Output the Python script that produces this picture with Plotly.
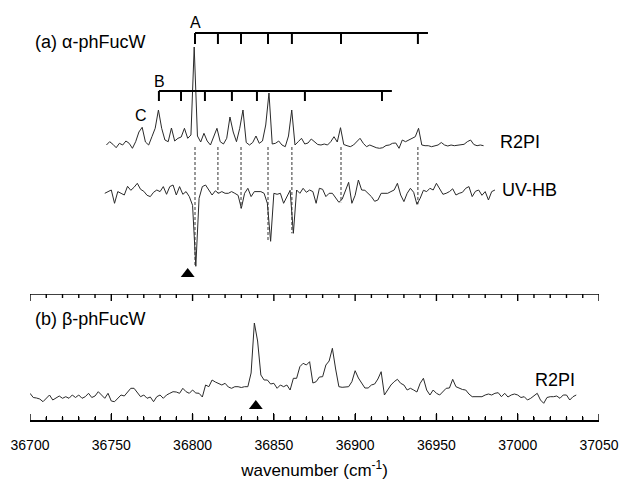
import numpy as np
import plotly.graph_objects as go

# ---------------- data ----------------
r2pi_a_start, r2pi_a_step = 36747, 2
r2pi_a = [-1, 2.3, -0.3, -3.7, 0.7, -1, 3, 0.7, -4.3, 2.3,
          12, 16.7, 2, -1, 7.3, 15.7, 34, 15.7, 4, 2.3,
          16, 3, 5.7, 7, 15.7, 5.7, 9, 97, 8, 2,
          10.7, 3, -1, 8, 15.7, 2.3, 0, 5.7, 27, 12,
          2.3, 15.7, 34, 1.5, -1, 1.5, 8, 0.7, 3, 19,
          51, 0, 0.7, 3, -1, -2.7, 8, 34, -1, 2.3,
          5.7, 0, 1, 5, 2.3, -0.5, -1, 0, -1, 2.3,
          7.3, 2, 16.3, -0.5, -1.7, -2.7, -1, 2, 5.7, 0.7,
          -2.7, -1, -2.7, -3.7, -4.3, -3.7, -1.5, -1, 0.7, 1,
          -4.3, 4, 2.3, 4, 5.7, 7.3, 15.7, -1, -1.7, -1.7,
          -2.7, -1.7, -1, 1.5, -1, -2, -1, -1.7, -1, -1,
          -0.3, 2.3, 4, -0.5, -1.7, -1, -1.7]

uvhb_start, uvhb_step = 36746, 2
uvhb = [0, 1.7, 3.3, -10, 1.7, 0, -1.7, 7, 3, 6,
        10, 4, 2, -2, -3.3, 1, 3.3, 1.7, 6.7, -1,
        6.7, 8.3, -1.7, 6.7, -1, 1.7, -3.3, -12, -73, -5,
        6.7, 8.3, 3.3, -1.7, 2.5, 0, 1.7, 0, 0, 1.7,
        0, -2, -15, 0, 5, -3.3, 1.7, 2, 1.7, 0,
        -10, -48, 0, -1, 0, -10, -3.3, 3, -40, 3.3,
        0, 5, 1, 3.3, 1.7, -10, 5, 4, -3.3, 0,
        0, -5, -9, -6, 3.3, 11, -10, -2, 13.3, 3.3,
        3, 0, -3.3, -8, -6.7, 0, 0, 0, 1.7, 3.3,
        10, -1.7, -8.3, 0, 5, 1, -11, -5, 3, 1.7,
        5, 3.3, 10, 5, -1, 0, 1.7, 4.5, -1.7, 0,
        1, 5, 6.7, -3.3, 2, 3.3, -2, 1.7, -6.7, 1.7,
        3.3]

r2pi_b_start, r2pi_b_step = 36700, 2
r2pi_b = [27.7, 23.5, 23, 22, 19.3, 22.7, 26, 21, 22.7, 25,
          22.7, 24.3, 22.7, 26, 23.5, 26, 22.7, 24.3, 27.7, 23.5,
          25, 29.3, 26, 22.7, 27.7, 20, 19.3, 22.7, 26, 25,
          29.3, 32.7, 32.7, 28.5, 24.3, 26, 22.7, 24, 19.3, 24.3,
          26, 22.7, 26, 27.7, 29.3, 29, 27.7, 32.7, 29.3, 27.7,
          31, 28, 27.7, 24, 36, 34.3, 41, 39, 37.7, 36,
          37.7, 34, 32.7, 34.3, 34.3, 33.5, 34.3, 34.3, 48, 98,
          80, 46, 41, 41, 37, 37.7, 32.7, 36, 34.3, 36,
          31, 42.7, 42.7, 54.3, 57.7, 56, 59.3, 38, 39.3, 44,
          44.3, 56, 60, 72.7, 52, 34.3, 33.7, 33.7, 34.3, 39.3,
          50.3, 43, 38, 33, 33, 36, 37, 42, 49.3, 26,
          31, 36, 39.3, 41.7, 37.7, 36, 31, 32.7, 31, 29,
          37.7, 42.7, 31, 26, 31, 27.7, 26, 29.3, 32.7, 33,
          41.7, 34.3, 32.7, 31.5, 31, 27, 24.3, 24.3, 25, 24.3,
          26, 27, 26, 27.7, 28.3, 24.3, 27.7, 24, 26, 27,
          26, 23.5, 24.3, 21, 22.7, 25, 27.7, 21, 17.7, 23.5,
          24.3, 24.3, 25, 22.7, 26, 26, 21, 24.3, 26]

comb_A = [36801.5, 36815.6, 36829.8, 36846.4, 36861.1, 36891.3, 36938.6]
comb_A_end = 36944.8
comb_B = [36779.3, 36792.9, 36807.6, 36824.2, 36839.6, 36869.1, 36916.5]
comb_B_end = 36922.6
label_C = 36769.0

origin_a = 36797.0
origin_b = 36838.9

x_range = [36700, 37050]
major_ticks = [36700, 36750, 36800, 36850, 36900, 36950, 37000, 37050]
tick_labels = ["36700", "36750", "36800", "36850", "36900", "36950", "37000", "37050"]
minor_step = 10

# ---------------- styling/layout constants ----------------
uvhb_offset = -49.3
combA_y, combA_len = 111, 11
combB_y, combB_len = 53, 10
panel_b_h = 127
pad_b = 10
font = "Liberation Sans, Arial, sans-serif"
line_col = "#2a2a2a"
plot_h = 421
panel_b_top = (panel_b_h + pad_b) / plot_h
axis_pos = pad_b / plot_h

xa = r2pi_a_start + r2pi_a_step * np.arange(len(r2pi_a))
xu = uvhb_start + uvhb_step * np.arange(len(uvhb))
xb = r2pi_b_start + r2pi_b_step * np.arange(len(r2pi_b))
ya = np.array(r2pi_a, dtype=float)
yu = np.array(uvhb, dtype=float) + uvhb_offset
yb = np.array(r2pi_b, dtype=float)

fig = go.Figure()

dx, dy = [], []
for p in comb_A:
    near = np.abs(xu - p) <= 2
    end = yu[near].min()
    dx += [p, p, None]
    dy += [-3, end, None]
fig.add_trace(go.Scatter(x=dx, y=dy, mode="lines", xaxis="x2", yaxis="y2",
                         line=dict(color="#333", width=1, dash="3px,2px"),
                         hoverinfo="skip", showlegend=False))

fig.add_trace(go.Scatter(x=xa, y=ya, mode="lines", xaxis="x2", yaxis="y2",
                         line=dict(color=line_col, width=1), showlegend=False))
fig.add_trace(go.Scatter(x=xu, y=yu, mode="lines", xaxis="x2", yaxis="y2",
                         line=dict(color=line_col, width=1), showlegend=False))
fig.add_trace(go.Scatter(x=xb, y=yb, mode="lines", xaxis="x", yaxis="y",
                         line=dict(color=line_col, width=1), showlegend=False))

def comb(ticks, end, y0, ln):
    cx = [ticks[0], end, None]
    cy = [y0, y0, None]
    for t in ticks:
        cx += [t, t, None]
        cy += [y0, y0 - ln, None]
    return cx, cy

for ticks, end, y0, ln in [(comb_A, comb_A_end, combA_y, combA_len),
                           (comb_B, comb_B_end, combB_y, combB_len)]:
    cx, cy = comb(ticks, end, y0, ln)
    fig.add_trace(go.Scatter(x=cx, y=cy, mode="lines", xaxis="x2", yaxis="y2",
                             line=dict(color="black", width=2),
                             hoverinfo="skip", showlegend=False))

fig.add_trace(go.Scatter(x=[origin_a], y=[-130], mode="markers", xaxis="x2", yaxis="y2",
                         marker=dict(symbol="triangle-up", size=12, color="black"),
                         showlegend=False))
fig.add_trace(go.Scatter(x=[origin_b], y=[15], mode="markers", xaxis="x", yaxis="y",
                         marker=dict(symbol="triangle-up", size=12, color="black"),
                         showlegend=False))

# top frame line of panel (b) with downward ticks (traces in y units = px)
fx = [x_range[0], x_range[1]]
fy = [panel_b_h, panel_b_h]
fig.add_trace(go.Scatter(x=fx, y=fy, mode="lines", xaxis="x", yaxis="y",
                         line=dict(color="black", width=1.6),
                         hoverinfo="skip", showlegend=False))
tx, ty = [], []
for t in np.arange(x_range[0], x_range[1] + 1, minor_step):
    ln = 7 if t in major_ticks else 4
    tx += [t, t, None]
    ty += [panel_b_h, panel_b_h - ln, None]
fig.add_trace(go.Scatter(x=tx, y=ty, mode="lines", xaxis="x", yaxis="y",
                         line=dict(color="black", width=1.4),
                         hoverinfo="skip", showlegend=False))

# bottom axis: a free-positioned native axis (line + inside ticks, no labels)
# and a filled thin rectangle as the axis line
shapes = [dict(type="rect", xref="paper", yref="paper", layer="above",
               x0=0, x1=1, y0=axis_pos - 0.8 / plot_h, y1=axis_pos + 0.8 / plot_h,
               fillcolor="black", line=dict(width=0))]
for t in np.arange(x_range[0], x_range[1] + 1, minor_step):
    ln = 7 if t in major_ticks else 4
    shapes.append(dict(type="rect", xref="x", yref="paper", layer="above",
                       x0=t - 0.43, x1=t + 0.43,
                       y0=axis_pos, y1=axis_pos + ln / plot_h,
                       fillcolor="black", line=dict(width=0)))

ann = []
def txt(x, y, s, xref, yref, size=18, xanchor="left"):
    ann.append(dict(x=x, y=y, text=s, xref=xref, yref=yref, showarrow=False,
                    xanchor=xanchor, yanchor="middle", borderpad=0,
                    font=dict(family=font, size=size, color="black")))

txt(36702.5, 102, "(a) α-phFucW", "x2", "y2")
txt(comb_A[0], 122, "A", "x2", "y2", size=16, xanchor="center")
txt(comb_B[0] + 0.5, 63, "B", "x2", "y2", size=16, xanchor="center")
txt(label_C - 0.5, 29, "C", "x2", "y2", size=16, xanchor="center")
txt(36988.5, 2.3, "R2PI", "x2", "y2")
txt(36989.5, -46, "UV-HB", "x2", "y2")
txt(36702.2, 101.7, "(b) β-phFucW", "x", "y")
txt(37010.0, 41, "R2PI", "x", "y")

fig.update_layout(
    width=621, height=480,
    margin=dict(l=30, r=22, t=10, b=480 - 10 - plot_h, autoexpand=False),
    plot_bgcolor="rgba(0,0,0,0)", paper_bgcolor="white",
    font=dict(family=font, color="black"),
    annotations=ann, shapes=shapes,
    xaxis=dict(range=x_range, anchor="y", showline=False,
               ticks="outside", ticklen=1, tickcolor="rgba(0,0,0,0)",
               tickvals=major_ticks, ticktext=tick_labels,
               showgrid=False, zeroline=False, automargin=False,
               tickfont=dict(size=14, family=font, color="black"),
               title=dict(text="wavenumber (cm<sup>-1</sup>)", standoff=16,
                          font=dict(size=17, family=font, color="black"))),
    yaxis=dict(domain=[0, panel_b_top], range=[-pad_b, panel_b_h], visible=False),
    xaxis2=dict(matches="x", anchor="y2", visible=False),
    yaxis2=dict(domain=[panel_b_top, 1], range=[-150, 134], visible=False),
    xaxis3=dict(matches="x", anchor="free", position=axis_pos, overlaying="x",
                side="bottom", showline=True, linecolor="black", linewidth=1.6,
                ticks="inside", ticklen=7, tickwidth=1.4, tickcolor="black",
                tickvals=major_ticks, showticklabels=False, showgrid=False,
                zeroline=False,
                minor=dict(tickvals=list(np.arange(x_range[0], x_range[1] + 1, minor_step)),
                           ticks="inside", ticklen=4, tickwidth=1.3,
                           tickcolor="black", showgrid=False)),
)
# dummy invisible trace so that xaxis3 is drawn
fig.add_trace(go.Scatter(x=[x_range[0]], y=[0], mode="markers", xaxis="x3", yaxis="y",
                         marker=dict(opacity=0), hoverinfo="skip", showlegend=False))

fig.write_html("out.html",
               config={"displayModeBar": False},
               post_script="document.body.style.margin='0';"
                           "document.body.style.overflow='hidden';")
